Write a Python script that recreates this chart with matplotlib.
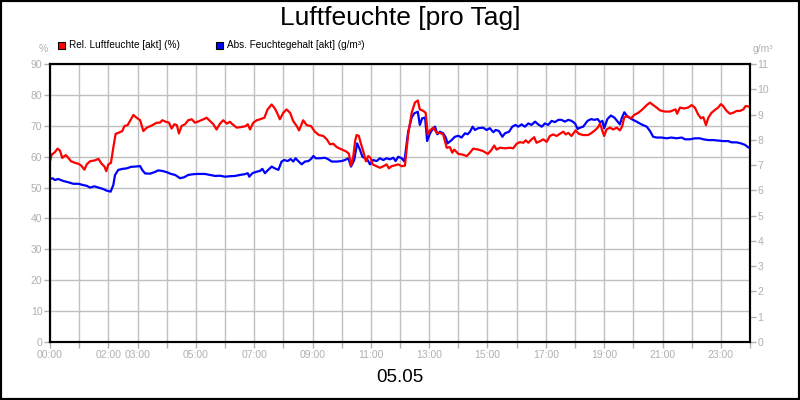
import matplotlib
matplotlib.use("Agg")
import matplotlib.pyplot as plt
from matplotlib.patches import Rectangle

plt.rcParams['font.family'] = ['Liberation Sans', 'DejaVu Sans']

# Zeit in Stunden ab 00:00
zeit_rel = [
    0.00, 0.06, 0.15, 0.26, 0.34, 0.42, 0.54, 0.63, 0.72, 0.86, 0.97, 1.06, 1.18, 1.26,
    1.37, 1.54, 1.66, 1.77, 1.86, 1.93, 2.00, 2.09, 2.17, 2.25, 2.37, 2.48, 2.55, 2.66,
    2.74, 2.86, 2.97, 3.09, 3.20, 3.32, 3.49, 3.66, 3.77, 3.85, 3.97, 4.08, 4.17, 4.26,
    4.35, 4.42, 4.51, 4.63, 4.74, 4.86, 4.97, 5.11, 5.26, 5.37, 5.49, 5.60, 5.71, 5.83,
    5.94, 6.06, 6.17, 6.23, 6.40, 6.57, 6.71, 6.78, 6.86, 6.97, 7.09, 7.20, 7.35, 7.46,
    7.60, 7.71, 7.81, 7.88, 8.00, 8.11, 8.23, 8.34, 8.46, 8.54, 8.68, 8.80, 8.95, 9.08,
    9.22, 9.37, 9.49, 9.60, 9.71, 9.83, 9.94, 10.06, 10.17, 10.25, 10.32, 10.40, 10.46,
    10.51, 10.59, 10.66, 10.74, 10.83, 10.91, 10.99, 11.06, 11.20, 11.31, 11.43, 11.54,
    11.62, 11.71, 11.83, 11.94, 12.06, 12.17, 12.28, 12.40, 12.51, 12.61, 12.68, 12.80,
    12.88, 12.95, 13.03, 13.14, 13.26, 13.37, 13.48, 13.60, 13.71, 13.79, 13.86, 14.00,
    14.13, 14.29, 14.40, 14.51, 14.68, 14.85, 15.01, 15.12, 15.23, 15.31, 15.43, 15.60,
    15.77, 15.88, 16.00, 16.11, 16.23, 16.31, 16.40, 16.51, 16.60, 16.68, 16.80, 16.91,
    17.03, 17.14, 17.25, 17.37, 17.48, 17.60, 17.68, 17.77, 17.88, 18.02, 18.13, 18.28,
    18.45, 18.57, 18.68, 18.78, 18.86, 18.94, 19.00, 19.08, 19.20, 19.31, 19.43, 19.54,
    19.62, 19.69, 19.80, 19.92, 20.03, 20.17, 20.31, 20.46, 20.57, 20.68, 20.80, 20.91,
    21.08, 21.25, 21.37, 21.45, 21.50, 21.60, 21.74, 21.88, 22.00, 22.11, 22.22, 22.32,
    22.40, 22.49, 22.57, 22.68, 22.82, 22.91, 23.00, 23.08, 23.20, 23.31, 23.42, 23.54,
    23.65, 23.77, 23.85, 23.96,
]
rel_feuchte = [
    58.5, 60.7, 61.3, 62.6, 62.0, 59.6, 60.5, 59.6, 58.5, 58.0, 57.7, 57.2, 55.8, 57.5,
    58.5, 58.8, 59.3, 57.7, 56.9, 55.3, 57.5, 58.0, 62.9, 67.4, 67.8, 68.3, 69.9, 70.2,
    71.5, 73.5, 72.6, 71.8, 68.3, 69.4, 70.1, 71.0, 71.0, 71.8, 71.3, 71.0, 69.1, 70.5,
    70.2, 67.5, 69.9, 70.5, 71.8, 72.1, 71.0, 71.5, 72.1, 72.6, 71.5, 70.5, 68.8, 70.7,
    71.8, 70.7, 71.3, 70.7, 69.4, 69.6, 69.9, 70.5, 68.8, 71.0, 71.8, 72.1, 72.6, 75.3,
    76.9, 75.6, 73.7, 72.1, 74.2, 75.3, 74.2, 71.5, 69.9, 68.5, 71.8, 70.2, 69.9, 68.1,
    67.0, 66.7, 65.6, 64.0, 64.2, 63.1, 62.6, 62.1, 61.6, 60.9, 57.1, 60.2, 65.0,
    67.0, 66.7, 64.2, 61.8, 58.5, 60.2, 59.6, 57.5, 56.9, 56.4, 56.9, 57.5,
    56.2, 56.9, 57.2, 57.5, 56.9, 57.1, 67.2, 74.2, 77.5, 78.2, 75.3, 74.8,
    74.2, 67.2, 68.5, 69.4, 67.7, 67.7, 67.2, 62.9, 63.1, 61.3, 62.3, 60.9,
    60.7, 60.2, 61.3, 62.6, 62.3, 61.8, 60.9, 62.0, 63.6, 62.3, 62.9, 62.7,
    62.9, 62.7, 64.2, 64.7, 64.5, 65.3, 64.5, 65.6, 66.3, 64.5, 65.0, 65.6,
    64.8, 66.7, 67.2, 66.7, 67.4, 68.1, 67.2, 67.7, 66.7, 68.5, 67.4, 67.0,
    67.0, 67.7, 68.5, 69.4, 70.7, 68.3, 66.7, 68.8, 69.4, 68.8, 69.4, 68.5,
    69.9, 72.8, 73.1, 72.4, 73.5, 74.2, 75.3, 76.7, 77.5, 76.7, 75.9, 75.0,
    74.6, 74.6, 75.0, 75.3, 73.9, 75.9, 75.6, 75.9, 76.7, 75.9, 73.7, 72.4,
    72.8, 70.2, 72.6, 74.2, 75.3, 75.9, 77.0, 76.4, 74.8, 73.9, 74.2, 74.8,
    74.8, 75.3, 76.4, 76.2,
]

zeit_abs = [
    0.00, 0.08, 0.17, 0.28, 0.46, 0.63, 0.80, 0.97, 1.14, 1.26, 1.37, 1.52, 1.66, 1.83,
    1.94, 2.08, 2.17, 2.23, 2.34, 2.48, 2.63, 2.78, 2.91, 3.09, 3.16, 3.26, 3.43, 3.58,
    3.71, 3.85, 4.00, 4.15, 4.29, 4.46, 4.60, 4.74, 4.91, 5.08, 5.31, 5.49, 5.66, 5.83,
    6.00, 6.17, 6.34, 6.51, 6.68, 6.78, 6.83, 6.94, 7.09, 7.20, 7.28, 7.37, 7.48, 7.60,
    7.71, 7.83, 7.94, 8.03, 8.15, 8.25, 8.34, 8.42, 8.51, 8.63, 8.74, 8.86, 8.95, 9.03,
    9.11, 9.26, 9.43, 9.54, 9.66, 9.83, 10.00, 10.11, 10.23, 10.32, 10.43, 10.53, 10.63,
    10.71, 10.80, 10.89, 10.97, 11.08, 11.20, 11.31, 11.43, 11.54, 11.66, 11.77, 11.85,
    11.94, 12.06, 12.15, 12.28, 12.40, 12.49, 12.61, 12.68, 12.76, 12.86, 12.93, 13.03,
    13.14, 13.20, 13.28, 13.37, 13.48, 13.57, 13.63, 13.77, 13.88, 14.00, 14.11, 14.23,
    14.32, 14.40, 14.49, 14.57, 14.68, 14.85, 14.97, 15.08, 15.20, 15.28, 15.39, 15.51,
    15.60, 15.74, 15.85, 15.96, 16.05, 16.17, 16.28, 16.40, 16.51, 16.63, 16.74, 16.86,
    16.97, 17.08, 17.20, 17.31, 17.43, 17.54, 17.65, 17.77, 17.88, 18.00, 18.09, 18.17,
    18.28, 18.43, 18.55, 18.66, 18.78, 18.86, 18.94, 19.00, 19.11, 19.23, 19.35, 19.46,
    19.54, 19.60, 19.69, 19.80, 19.94, 20.11, 20.28, 20.46, 20.57, 20.68, 20.80, 20.97,
    21.14, 21.31, 21.48, 21.66, 21.77, 21.94, 22.11, 22.28, 22.40, 22.57, 22.74, 22.91,
    23.08, 23.25, 23.37, 23.54, 23.69, 23.83, 23.94,
]
abs_feuchte = [
    6.45, 6.48, 6.41, 6.45, 6.37, 6.32, 6.26, 6.26, 6.21, 6.18, 6.11, 6.16, 6.11, 6.05,
    5.99, 5.95, 6.21, 6.61, 6.81, 6.85, 6.87, 6.93, 6.94, 6.96, 6.81, 6.67, 6.66, 6.72,
    6.79, 6.77, 6.72, 6.65, 6.61, 6.48, 6.52, 6.61, 6.64, 6.65, 6.65, 6.61, 6.57, 6.58,
    6.54, 6.56, 6.57, 6.61, 6.64, 6.68, 6.54, 6.68, 6.74, 6.77, 6.85, 6.68, 6.81, 6.94,
    6.87, 6.81, 7.14, 7.20, 7.16, 7.24, 7.14, 7.27, 7.16, 7.03, 7.14, 7.16, 7.24, 7.36,
    7.27, 7.27, 7.29, 7.23, 7.14, 7.14, 7.16, 7.20, 7.27, 6.94, 7.20, 7.86, 7.60,
    7.33, 7.27, 7.20, 7.03, 7.20, 7.16, 7.27, 7.20, 7.27, 7.23, 7.29, 7.16,
    7.33, 7.27, 7.14, 8.32, 8.88, 9.05, 9.11, 8.59, 8.85, 8.88, 7.95, 8.26,
    8.46, 8.52, 8.22, 8.32, 8.26, 8.09, 7.86, 7.99, 8.12, 8.16, 8.09, 8.26,
    8.22, 8.32, 8.52, 8.39, 8.46, 8.48, 8.39, 8.46, 8.30, 8.39, 8.35, 8.12,
    8.26, 8.32, 8.52, 8.59, 8.52, 8.61, 8.52, 8.65, 8.59, 8.72, 8.61, 8.52,
    8.65, 8.59, 8.75, 8.70, 8.79, 8.79, 8.72, 8.79, 8.75, 8.65, 8.43, 8.48,
    8.52, 8.75, 8.82, 8.79, 8.82, 8.69, 8.75, 8.46, 8.82, 8.96, 8.88, 8.72,
    8.61, 8.85, 9.09, 8.92, 8.82, 8.72, 8.61, 8.52, 8.35, 8.12, 8.09, 8.09,
    8.06, 8.09, 8.06, 8.09, 8.02, 8.02, 8.06, 8.06, 8.02, 7.99, 7.99, 7.97,
    7.95, 7.95, 7.90, 7.90, 7.86, 7.80, 7.70,
]

stunden = list(range(25))
beschriftete = [0, 2, 3, 5, 7, 9, 11, 13, 15, 17, 19, 21, 23]
x_labels = [f"{h:02d}:00" if h in beschriftete else "" for h in stunden]
links_ticks = list(range(0, 91, 10))
rechts_ticks = list(range(0, 12))

GRAU = "#b0b0b0"
ROT = "#ff0000"
BLAU = "#0000ff"

fig = plt.figure(figsize=(8, 4), dpi=100)
ax = fig.add_axes([50 / 800, 1 - 342 / 400, 700 / 800, 278 / 400])
ax2 = ax.twinx()

ax.set_xlim(0, 24)
ax.set_ylim(0, 90)
ax2.set_ylim(0, 11)

# blau zuerst, rot darüber (beide im unteren Achsenobjekt)
ax.plot(zeit_abs, abs_feuchte, color=BLAU, linewidth=1.6, transform=ax2.transData, zorder=3)
ax.plot(zeit_rel, rel_feuchte, color=ROT, linewidth=1.6, zorder=4)
ax.set_xlim(0, 24)
ax.set_ylim(0, 90)

ax.set_xticks(stunden)
ax.set_xticklabels(x_labels)
ax.set_yticks(links_ticks)
ax2.set_yticks(rechts_ticks)

ax.grid(True, color="#c0c0c0", linewidth=1)
ax.set_axisbelow(True)

for a in (ax, ax2):
    a.tick_params(colors=GRAU, labelcolor=GRAU, labelsize=7.5, length=4, width=1, pad=1.5)
    for s in a.spines.values():
        s.set_color("black")
        s.set_linewidth(1.5)

# Titel und Beschriftungen
fig.text(0.5, 1 - 18 / 400, "Luftfeuchte [pro Tag]", ha="center", va="center", fontsize=19)
fig.text(0.5, 1 - 378 / 400, "05.05", ha="center", va="center", fontsize=13.5)
fig.text(48 / 800, 1 - 49 / 400, "%", ha="right", va="center", fontsize=7.5, color=GRAU)
fig.text(753 / 800, 1 - 49 / 400, "g/m³", ha="left", va="center", fontsize=7.5, color=GRAU)

# Legende
legende = [("Rel. Luftfeuchte [akt] (%)", ROT, 58), ("Abs. Feuchtegehalt [akt] (g/m³)", BLAU, 216)]
for text, farbe, x0 in legende:
    fig.add_artist(Rectangle((x0 / 800, 1 - 49 / 400), 7 / 800, 7 / 400, transform=fig.transFigure,
                             facecolor=farbe, edgecolor="black", linewidth=0.8))
    fig.text((x0 + 11) / 800, 1 - 45 / 400, text, ha="left", va="center", fontsize=7.2)

# Rahmen um das ganze Bild
fig.add_artist(Rectangle((0, 0), 1, 1, transform=fig.transFigure, fill=False,
                         edgecolor="black", linewidth=3))

fig.savefig("out.png", dpi=100, facecolor="white")
